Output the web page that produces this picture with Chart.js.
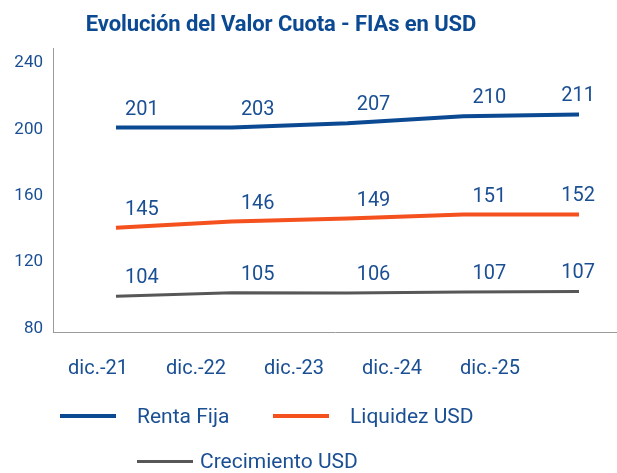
<!DOCTYPE html>
<html lang="es">
<head>
<meta charset="utf-8">
<title>Evolución del Valor Cuota - FIAs en USD</title>
<script src="https://cdn.jsdelivr.net/npm/chart.js@4.4.1/dist/chart.umd.min.js"></script>
<style>
  html, body { margin: 0; padding: 0; background: #fff; }
  #wrap { position: relative; width: 617px; height: 473px; font-family: Roboto, sans-serif; }
  #chart-title {
    position: absolute; left: 31px; width: 500px; top: 11px; white-space: nowrap;
    text-align: center; font-size: 22px; font-weight: bold; color: #0b4a93; letter-spacing: -0.1px;
  }
  #legend { position: absolute; left: 0; top: 0; width: 617px; height: 473px; pointer-events: none; }
  .legend-item { position: absolute; display: flex; align-items: center; color: #1a4f93; font-size: 21px; }
  .legend-item span.swatch { display: inline-block; width: 56px; margin-right: 21px; }
  .legend-item.row1a { left: 60px; top: 404px; }
  .legend-item.row1b { left: 273px; top: 404px; }
  .legend-item.row2 { left: 137px; top: 449px; }
  .legend-item.row2 span.swatch { margin-right: 7px; }
</style>
</head>
<body>
<div id="wrap">
  <div id="chart-title">Evolución del Valor Cuota - FIAs en USD</div>
  <canvas id="valor-cuota-chart" width="617" height="473"></canvas>
  <div id="legend"></div>
</div>
<script>
// Periods on the x axis
const periods = ['dic.-21', 'dic.-22', 'dic.-23', 'dic.-24', 'dic.-25'];

// Line values as drawn
const rentaFija = [201.1, 201.1, 203.7, 207.9, 209.0];
const liquidezUsd = [140.8, 144.5, 146.3, 148.7, 148.8];
const crecimientoUsd = [99.6, 101.7, 101.5, 102.1, 102.4];

// Numbers printed above each point
const rentaFijaLabels = ['201', '203', '207', '210', '211'];
const liquidezUsdLabels = ['145', '146', '149', '151', '152'];
const crecimientoUsdLabels = ['104', '105', '106', '107', '107'];

const textBlue = '#1a4f93';
const fontFamily = 'Roboto, sans-serif';

// Turn a plain list into {x, y} points for the linear x axis
function toPoints(values) {
    return values.map((v, i) => ({ x: i, y: v }));
}

// Small plugin to write the value labels over the lines
const valueLabels = {
    id: 'valueLabels',
    afterDatasetsDraw(chart) {
        const ctx = chart.ctx;
        ctx.save();
        ctx.font = '20px ' + fontFamily;
        ctx.fillStyle = textBlue;
        ctx.textAlign = 'center';
        ctx.textBaseline = 'middle';
        chart.data.datasets.forEach((ds, di) => {
            const meta = chart.getDatasetMeta(di);
            meta.data.forEach((pt, i) => {
                const text = ds.valueLabels[i];
                const w = ctx.measureText(text).width;
                let x = pt.x + 26;
                x = Math.min(x, chart.chartArea.right - w / 2 - 22);
                ctx.fillText(text, x, pt.y - 18);
            });
        });
        ctx.restore();
    }
};

const ctx = document.getElementById('valor-cuota-chart').getContext('2d');
const chart = new Chart(ctx, {
    type: 'line',
    data: {
        datasets: [
            {
                label: 'Renta Fija',
                data: toPoints(rentaFija),
                valueLabels: rentaFijaLabels,
                borderColor: '#0b4a93',
                backgroundColor: '#0b4a93',
                borderWidth: 4
            },
            {
                label: 'Liquidez USD',
                data: toPoints(liquidezUsd),
                valueLabels: liquidezUsdLabels,
                borderColor: '#f4511e',
                backgroundColor: '#f4511e',
                borderWidth: 4
            },
            {
                label: 'Crecimiento USD',
                data: toPoints(crecimientoUsd),
                valueLabels: crecimientoUsdLabels,
                borderColor: '#575757',
                backgroundColor: '#575757',
                borderWidth: 3
            }
        ]
    },
    options: {
        responsive: false,
        animation: false,
        layout: { padding: { top: 48, right: 0, bottom: 0, left: 0 } },
        elements: {
            point: { radius: 0, hoverRadius: 0 },
            line: { tension: 0, borderCapStyle: 'butt' }
        },
        plugins: {
            legend: { display: false },
            title: { display: false },
            tooltip: { enabled: false }
        },
        scales: {
            x: {
                type: 'linear',
                display: false,
                min: -0.544,
                max: 4.328
            },
            // axis that only carries the period names
            xl: {
                type: 'linear',
                position: 'bottom',
                min: -0.459,
                max: 5.296,
                grid: { display: false, drawTicks: false },
                border: { display: true, color: '#9a9a9a', width: 1 },
                afterFit(scale) { scale.height = 141; },
                ticks: {
                    stepSize: 1,
                    includeBounds: false,
                    autoSkip: false,
                    maxRotation: 0,
                    padding: 25,
                    color: textBlue,
                    font: { family: fontFamily, size: 20 },
                    callback: (value) => Number.isInteger(value) && periods[value] ? periods[value] : ''
                }
            },
            y: {
                min: 78,
                max: 249,
                grid: { display: false, drawTicks: false },
                border: { display: true, color: '#9a9a9a', width: 1 },
                afterFit(scale) { scale.width = 53; },
                ticks: {
                    stepSize: 40,
                    includeBounds: false,
                    padding: 10,
                    color: textBlue,
                    font: { family: fontFamily, size: 17 },
                    callback: (value) => value % 40 === 0 ? value : ''
                }
            }
        }
    },
    plugins: [valueLabels]
});

// Build the legend under the chart from the datasets
const legendEl = document.getElementById('legend');
const rowClasses = ['row1a', 'row1b', 'row2'];
chart.data.datasets.forEach((ds, i) => {
    const item = document.createElement('div');
    item.className = 'legend-item ' + rowClasses[i];
    const swatch = document.createElement('span');
    swatch.className = 'swatch';
    swatch.style.height = ds.borderWidth + 'px';
    swatch.style.background = ds.borderColor;
    const label = document.createElement('span');
    label.textContent = ds.label;
    item.appendChild(swatch);
    item.appendChild(label);
    legendEl.appendChild(item);
});
</script>
</body>
</html>
